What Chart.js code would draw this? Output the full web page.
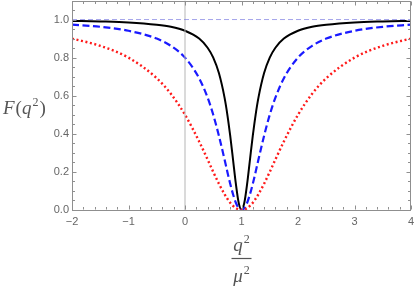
<!DOCTYPE html>
<html>
<head>
<meta charset="utf-8">
<script src="https://cdn.jsdelivr.net/npm/chart.js@4.4.1/dist/chart.umd.min.js"></script>
<style>
html,body{margin:0;padding:0;background:#fff;}
#c{display:block;}
</style>
</head>
<body>
<canvas id="c" width="415" height="288" style="width:415px;height:288px"></canvas>
<script>
// ---- data ----
const qValues = [-2,-1.5,-1,-0.5,-0.25,0,0.25,0.4,0.5,0.6,0.7,0.75,0.8,0.85,0.9,0.95,1,1.05,1.1,1.15,1.2,1.25,1.3,1.4,1.5,1.6,1.75,2,2.25,2.5,3,3.5,4];
const blackSolid = [.993,.990,.985,.973,.962,.941,.900,.852,.800,.719,.590,.500,.390,.265,.138,.038,0,.038,.138,.265,.390,.500,.590,.719,.800,.852,.900,.941,.962,.973,.985,.990,.993];
const blueDashed = [.973,.962,.941,.900,.862,.800,.692,.590,.500,.390,.265,.200,.138,.083,.038,.010,0,.010,.038,.083,.138,.200,.265,.390,.500,.590,.692,.800,.862,.900,.941,.962,.973];
const redDotted  = [.900,.862,.800,.692,.610,.500,.360,.265,.200,.138,.083,.059,.038,.022,.010,.0025,0,.0025,.010,.022,.038,.059,.083,.138,.200,.265,.360,.500,.610,.692,.800,.862,.900];
const xTicks = [-2,-1,0,1,2,3,4];
const yTicks = [0,0.2,0.4,0.6,0.8,1.0];
const xRange = [-2,4];
const yRange = [0,1.1];
const refLineY = 1;   // dashed reference level
const refLineX = 0;   // thin vertical line
const yLabel = ['F(q', '2', ')'];
const xLabelNum = ['q','2'];
const xLabelDen = ['\u03bc','2'];

const toPts = (xs, ys) => xs.map((x,i)=>({x:x, y:ys[i]}));

const frameColor = '#8f8f8f';
const labelColor = '#666666';

const framePlugin = {
  id: 'frame',
  afterDatasetsDraw(chart){
    const ctx = chart.ctx;
    const a = chart.chartArea;
    const xs = chart.scales.x, ys = chart.scales.y;
    ctx.save();
    ctx.strokeStyle = frameColor;
    ctx.lineWidth = 1;
    ctx.strokeRect(Math.round(a.left)+0.5, Math.round(a.top)+0.5, Math.round(a.right-a.left)-1, Math.round(a.bottom-a.top)-1);
    const L = Math.round(a.left)+0.5, R = Math.round(a.right)-0.5, T = Math.round(a.top)+0.5, B = Math.round(a.bottom)-0.5;
    ctx.beginPath();
    for (let k = 0; k <= 30; k++) {
      const v = xRange[0] + k*0.2;
      const px = Math.round(xs.getPixelForValue(v)) + 0.5;
      const major = Math.abs(v - Math.round(v)) < 1e-6;
      const len = major ? 4 : 2.5;
      ctx.moveTo(px, B); ctx.lineTo(px, B - len);
      ctx.moveTo(px, T); ctx.lineTo(px, T + len);
    }
    for (let k = 0; k <= 22; k++) {
      const v = yRange[0] + k*0.05;
      if (v > yRange[1] + 1e-9) break;
      const py = Math.round(ys.getPixelForValue(v)) + 0.5;
      const major = Math.abs(v/0.2 - Math.round(v/0.2)) < 1e-6;
      const len = major ? 4 : 2.5;
      ctx.moveTo(L, py); ctx.lineTo(L + len, py);
      ctx.moveTo(R, py); ctx.lineTo(R - len, py);
    }
    ctx.stroke();

    ctx.fillStyle = '#555555';
    ctx.textBaseline = 'alphabetic';
    ctx.textAlign = 'left';
    const big = 'italic 19px "Liberation Serif", "DejaVu Serif", serif';
    const up = '19px "Liberation Serif", "DejaVu Serif", serif';
    const sup = '12px "Liberation Serif", "DejaVu Serif", serif';
    let x0 = 3, base = 114;
    ctx.font = big;
    ctx.fillText('F', x0, base); x0 += ctx.measureText('F').width + 1;
    ctx.font = up;
    ctx.fillText('(', x0, base); x0 += ctx.measureText('(').width;
    ctx.font = big;
    ctx.fillText('q', x0, base); x0 += ctx.measureText('q').width + 1;
    ctx.font = sup;
    ctx.fillText(yLabel[1], x0, base - 8); x0 += ctx.measureText(yLabel[1]).width + 1;
    ctx.font = up;
    ctx.fillText(')', x0, base);

    const cx = (a.left + a.right)/2;
    ctx.font = big;
    const qw = ctx.measureText(xLabelNum[0]).width;
    ctx.font = sup;
    const sw = ctx.measureText(xLabelNum[1]).width;
    let nx = cx - (qw + sw + 1)/2;
    ctx.font = big;
    ctx.fillText(xLabelNum[0], nx, 251);
    ctx.font = sup;
    ctx.fillText(xLabelNum[1], nx + qw + 1, 243);
    ctx.font = big;
    const mw = ctx.measureText(xLabelDen[0]).width;
    let dx = cx - (mw + sw + 1)/2;
    ctx.fillText(xLabelDen[0], dx, 282);
    ctx.font = sup;
    ctx.fillText(xLabelDen[1], dx + mw + 1, 274);
    ctx.strokeStyle = '#555555';
    ctx.lineWidth = 1.2;
    ctx.beginPath();
    ctx.moveTo(cx - 10, 258.5); ctx.lineTo(cx + 10, 258.5);
    ctx.stroke();
    ctx.restore();
  }
};

const noPad = s => { s.paddingLeft = 0; s.paddingRight = 0; s.paddingTop = 0; s.paddingBottom = 0; };

new Chart(document.getElementById('c'), {
  type: 'scatter',
  data: {
    datasets: [
      { data: toPts(xRange, [refLineY, refLineY]), showLine: true, borderColor: 'rgba(125,125,225,0.7)', borderWidth: 1, borderDash: [5,3], pointRadius: 0, tension: 0 },
      { data: toPts([refLineX, refLineX], yRange), showLine: true, borderColor: '#b5b5b5', borderWidth: 1, pointRadius: 0, tension: 0 },
      { data: toPts(qValues, redDotted), showLine: true, borderColor: '#ff1a1a', borderWidth: 2.4, borderDash: [2,2.6], borderCapStyle: 'butt', pointRadius: 0, cubicInterpolationMode: 'monotone' },
      { data: toPts(qValues, blueDashed), showLine: true, borderColor: '#1a1aff', borderWidth: 2.2, borderDash: [7,3.5], pointRadius: 0, cubicInterpolationMode: 'monotone' },
      { data: toPts(qValues, blackSolid), showLine: true, borderColor: '#000000', borderWidth: 2, pointRadius: 0, cubicInterpolationMode: 'monotone' }
    ]
  },
  options: {
    responsive: false,
    animation: false,
    devicePixelRatio: 1,
    layout: { padding: { left: 0, right: 4, top: 0.5, bottom: 0 } },
    plugins: { legend: { display: false }, tooltip: { enabled: false } },
    scales: {
      x: {
        type: 'linear', min: xRange[0], max: xRange[1],
        grid: { display: false, drawTicks: false },
        border: { display: false },
        afterBuildTicks: s => { s.ticks = xTicks.map(v => ({ value: v })); },
        afterFit: s => { s.height = 78; noPad(s); },
        ticks: {
          padding: 5, color: labelColor, maxRotation: 0, autoSkip: false,
          font: { family: '"Liberation Sans", Arial, sans-serif', size: 11 },
          callback: v => (v < 0 ? '\u2212' + Math.abs(v) : String(v))
        }
      },
      y: {
        type: 'linear', min: yRange[0], max: yRange[1],
        grid: { display: false, drawTicks: false },
        border: { display: false },
        afterBuildTicks: s => { s.ticks = yTicks.map(v => ({ value: v })); },
        afterFit: s => { s.width = 72; noPad(s); },
        ticks: {
          padding: 3, color: labelColor, autoSkip: false,
          font: { family: '"Liberation Sans", Arial, sans-serif', size: 11 },
          callback: v => Number(v).toFixed(1)
        }
      }
    }
  },
  plugins: [framePlugin]
});
</script>
</body>
</html>
